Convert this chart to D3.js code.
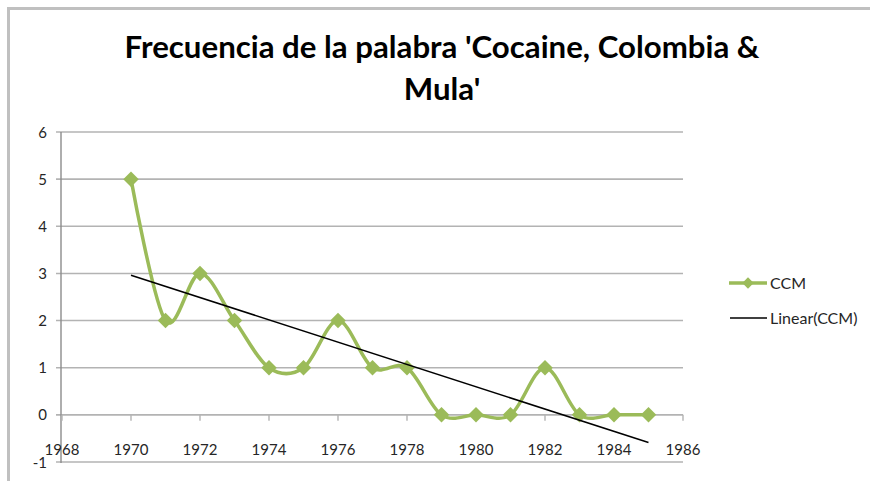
<!DOCTYPE html>
<html>
<head>
<meta charset="utf-8">
<script src="https://cdn.jsdelivr.net/npm/d3@7"></script>
<style>
  html, body { margin: 0; padding: 0; background: #fff; }
  svg { display: block; }
  text { font-family: Lato, "Open Sans", sans-serif; }
</style>
</head>
<body>
<svg id="chart" width="870" height="481"></svg>
<script>
// ---- data ----
const titleLines = ["Frecuencia de la palabra 'Cocaine, Colombia &", "Mula'"];
const years = [1970, 1971, 1972, 1973, 1974, 1975, 1976, 1977, 1978, 1979, 1980, 1981, 1982, 1983, 1984, 1985];
const ccm   = [5, 2, 3, 2, 1, 1, 2, 1, 1, 0, 0, 0, 1, 0, 0, 0];
const xTicks = [1968, 1970, 1972, 1974, 1976, 1978, 1980, 1982, 1984, 1986];
const yTicks = [-1, 0, 1, 2, 3, 4, 5, 6];
const seriesName = "CCM";
const trendName = "Linear(CCM)";

// ---- layout ----
const svg = d3.select("#chart");
const W = 870, H = 481;
const green = "#9bbb59";
const gridColor = "#b3b3b3";
const labelColor = "#262626";

// frame border
svg.append("path")
  .attr("d", `M8.5,${H} L8.5,8.5 L${W},8.5`)
  .attr("fill", "none").attr("stroke", "#c0c0c0").attr("stroke-width", 3);

const x = d3.scaleLinear().domain([1968, 1986]).range([62, 683]);
const y = d3.scaleLinear().domain([-1, 6]).range([462, 132]);

// title
const tg = svg.append("g");
titleLines.forEach((t, i) => {
  tg.append("text")
    .attr("x", 442).attr("y", 58 + i * 42)
    .attr("text-anchor", "middle")
    .attr("font-weight", "bold")
    .attr("font-size", 26)
    .attr("fill", "#000")
    .text(t);
});
// fit first line width to ~635px
const first = tg.select("text").node();
const w0 = first.getComputedTextLength();
const fs = 26 * 635 / w0;
tg.selectAll("text").attr("font-size", fs);

// gridlines
svg.append("g").selectAll("line").data(yTicks).join("line")
  .attr("x1", 56).attr("x2", 683)
  .attr("y1", d => y(d)).attr("y2", d => y(d))
  .attr("stroke", gridColor).attr("stroke-width", 1.6);

// y axis line
svg.append("line")
  .attr("x1", 61).attr("x2", 61).attr("y1", y(6)).attr("y2", y(-1) + 1)
  .attr("stroke", "#8c8c8c").attr("stroke-width", 1.4);

// x axis (at y=0) ticks
svg.append("g").selectAll("line").data(xTicks).join("line")
  .attr("x1", d => x(d)).attr("x2", d => x(d))
  .attr("y1", y(0)).attr("y2", y(0) + 6)
  .attr("stroke", gridColor).attr("stroke-width", 1.4);

// y tick labels
svg.append("g").selectAll("text").data(yTicks).join("text")
  .attr("x", 47).attr("y", d => y(d) + 5.5)
  .attr("text-anchor", "end")
  .attr("font-size", 15).attr("fill", labelColor)
  .text(d => d);

// x tick labels
svg.append("g").selectAll("text").data(xTicks).join("text")
  .attr("x", d => x(d)).attr("y", 455)
  .attr("text-anchor", "middle")
  .attr("font-size", 15).attr("fill", labelColor)
  .text(d => d);

// smoothed series
const pts = years.map((yr, i) => [yr, ccm[i]]);
const line = d3.line().x(d => x(d[0])).y(d => y(d[1])).curve(d3.curveCardinal.tension(0));
svg.append("path").datum(pts)
  .attr("d", line)
  .attr("fill", "none").attr("stroke", green).attr("stroke-width", 3.5)
  .attr("stroke-linejoin", "round");

// diamond markers
svg.append("g").selectAll("path").data(pts).join("path")
  .attr("d", d3.symbol().type(d3.symbolSquare).size(120))
  .attr("transform", d => `translate(${x(d[0])},${y(d[1])}) rotate(45)`)
  .attr("fill", green);

// linear trend (least squares)
const n = years.length;
const mx = d3.mean(years), my = d3.mean(ccm);
const sxy = d3.sum(years, (v, i) => (v - mx) * (ccm[i] - my));
const sxx = d3.sum(years, v => (v - mx) * (v - mx));
const slope = sxy / sxx, icpt = my - slope * mx;
const x0 = years[0], x1 = years[n - 1];
svg.append("line")
  .attr("x1", x(x0)).attr("y1", y(icpt + slope * x0))
  .attr("x2", x(x1)).attr("y2", y(icpt + slope * x1))
  .attr("stroke", "#000").attr("stroke-width", 1.5);

// legend
const lg = svg.append("g");
lg.append("line").attr("x1", 729).attr("x2", 767).attr("y1", 283).attr("y2", 283)
  .attr("stroke", green).attr("stroke-width", 3.5);
lg.append("path").attr("d", d3.symbol().type(d3.symbolSquare).size(64))
  .attr("transform", "translate(748,283) rotate(45)").attr("fill", green);
lg.append("text").attr("x", 770).attr("y", 289).attr("font-size", 16).attr("fill", labelColor).text(seriesName);
lg.append("line").attr("x1", 730).attr("x2", 767).attr("y1", 318).attr("y2", 318)
  .attr("stroke", "#000").attr("stroke-width", 1.5);
lg.append("text").attr("x", 770).attr("y", 324).attr("font-size", 16).attr("fill", labelColor).text(trendName);
</script>
</body>
</html>
